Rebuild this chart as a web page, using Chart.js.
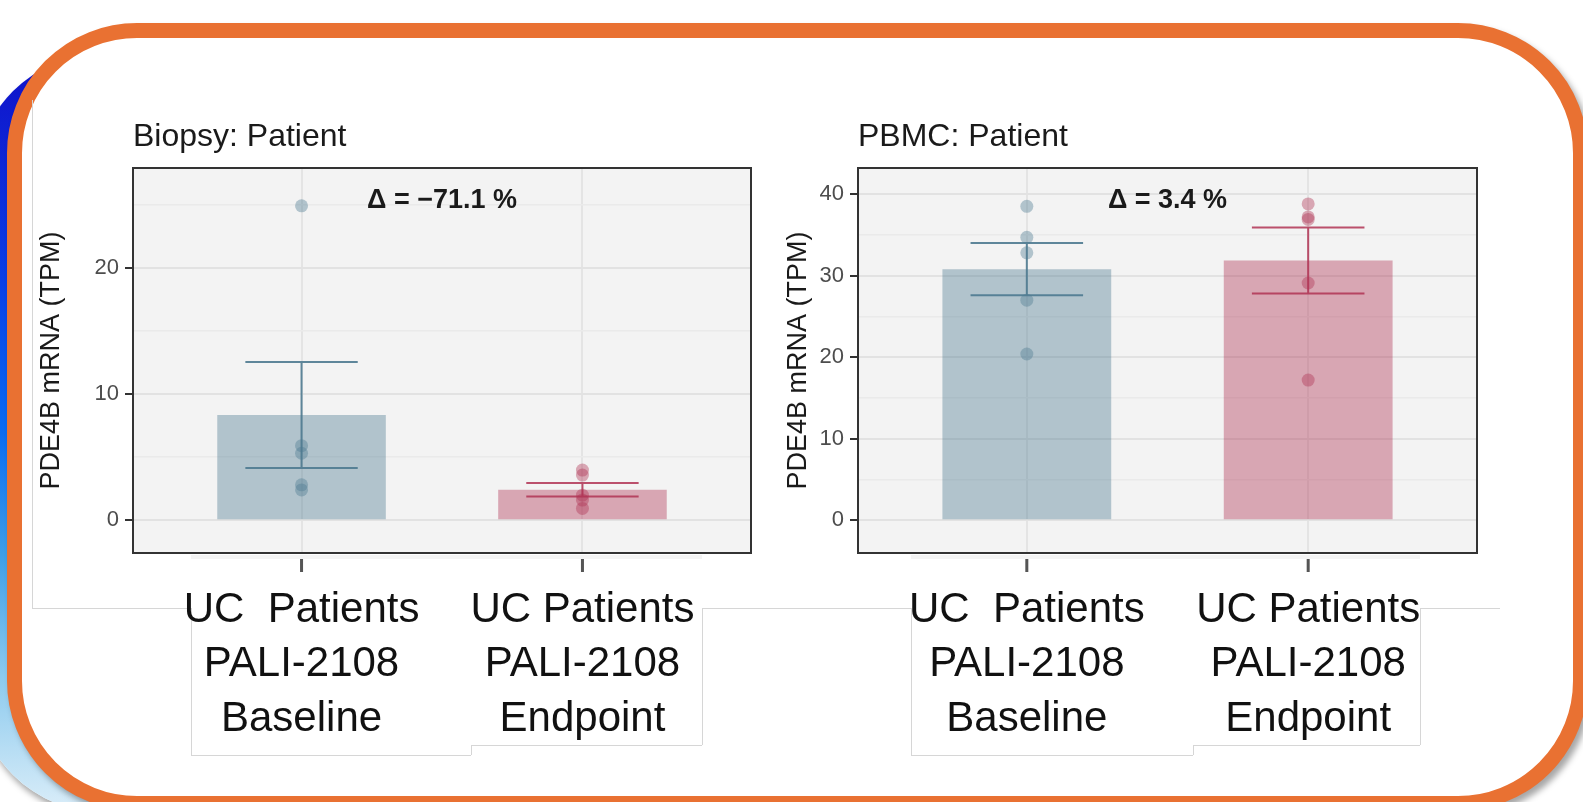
<!DOCTYPE html>
<html>
<head>
<meta charset="utf-8">
<script src="https://cdn.jsdelivr.net/npm/chart.js@4.4.1/dist/chart.umd.min.js"></script>
<style>
html,body{margin:0;padding:0;width:1583px;height:802px;overflow:hidden;background:#fff;}
.abs{position:absolute;}
#blue{left:-25px;top:53px;width:1500px;height:760px;border-radius:130px;
  background:linear-gradient(to bottom,#1010c8 0%,#0a3fe6 30%,#0a6cf2 50%,#3e9ee8 66%,#8ccaee 82%,#dceef9 100%);
  box-shadow:2px 5px 6px rgba(0,0,0,0.35);}
#frame{left:7px;top:23px;width:1581px;height:788px;box-sizing:border-box;border:15px solid #e97132;border-radius:130px;background:#fff;
  box-shadow:4px 5px 6px rgba(0,0,0,0.35);}
.ln{position:absolute;background:#d6d6d6;}
.band{position:absolute;background:#f4f4f4;}
.wrap{position:absolute;top:0;height:802px;}
</style>
</head>
<body>
<div id="blue" class="abs"></div>
<div id="frame" class="abs"></div>

<!-- pasted label boxes / picture outlines -->
<div class="ln" style="left:32px;top:100px;width:1px;height:508px;"></div>
<div class="ln" style="left:32px;top:608px;width:159px;height:1px;"></div>
<div class="ln" style="left:191px;top:608px;width:1px;height:147px;"></div>
<div class="ln" style="left:191px;top:755px;width:280px;height:1px;"></div>
<div class="ln" style="left:471px;top:745px;width:1px;height:10px;"></div>
<div class="ln" style="left:471px;top:745px;width:231px;height:1px;"></div>
<div class="ln" style="left:702px;top:608px;width:1px;height:137px;"></div>
<div class="ln" style="left:702px;top:608px;width:209px;height:1px;"></div>
<div class="ln" style="left:911px;top:608px;width:1px;height:147px;"></div>
<div class="ln" style="left:911px;top:755px;width:282px;height:1px;"></div>
<div class="ln" style="left:1193px;top:745px;width:1px;height:10px;"></div>
<div class="ln" style="left:1193px;top:745px;width:227px;height:1px;"></div>
<div class="ln" style="left:1420px;top:608px;width:1px;height:137px;"></div>
<div class="ln" style="left:1420px;top:608px;width:80px;height:1px;"></div>
<div class="band" style="left:191px;top:555px;width:511px;height:4px;"></div>
<div class="band" style="left:911px;top:555px;width:509px;height:4px;"></div>

<div class="wrap" style="left:0;width:770px;"><canvas id="c1" width="770" height="802"></canvas></div>
<div class="wrap" style="left:770px;width:813px;"><canvas id="c2" width="813" height="802"></canvas></div>

<script>
// ---------- data ----------
const categories = [
  ['UC  Patients', 'PALI-2108', 'Baseline'],
  ['UC Patients', 'PALI-2108', 'Endpoint']
];
const categoryPos = [1, 2];
const yAxisTitle = 'PDE4B mRNA (TPM)';

const biopsyTitle = 'Biopsy: Patient';
const biopsyMeans = [8.33, 2.41];
const biopsySE = [4.2, 0.53];
const biopsyBaselinePts = [24.9, 5.9, 5.3, 2.8, 2.4];
const biopsyEndpointPts = [3.97, 3.57, 1.98, 1.59, 0.93];
const biopsyDelta = 'Δ = −71.1 %';
const biopsyDeltaY = 25.3;
const biopsyYTicks = [0, 5, 10, 15, 20, 25];
const biopsyYLabels = ['0', '', '10', '', '20', ''];
const biopsyYRange = [-2.6, 27.9];

const pbmcTitle = 'PBMC: Patient';
const pbmcMeans = [30.8, 31.85];
const pbmcSE = [3.2, 4.05];
const pbmcBaselinePts = [38.5, 34.7, 32.8, 27.0, 20.4];
const pbmcEndpointPts = [38.8, 37.2, 36.9, 29.1, 17.2];
const pbmcDelta = 'Δ = 3.4 %';
const pbmcDeltaY = 39.2;
const pbmcYTicks = [0, 5, 10, 15, 20, 25, 30, 35, 40];
const pbmcYLabels = ['0', '', '10', '', '20', '', '30', '', '40'];
const pbmcYRange = [-4.0, 43.2];

// ---------- styling ----------
const FONT = "'Liberation Sans', Arial, sans-serif";
Chart.defaults.font.family = FONT;
const baseRGB = '78,122,144';
const endRGB = '176,50,83';

const panelPlugin = {
  id: 'panel',
  beforeDraw(chart, args, o) {
    const {ctx, chartArea: a} = chart;
    ctx.save();
    ctx.fillStyle = '#f3f3f3';
    ctx.fillRect(a.left, a.top, a.right - a.left, a.bottom - a.top);
    ctx.restore();
  },
  afterDatasetsDraw(chart, args, o) {
    const {ctx} = chart;
    const xs = chart.scales.x, ys = chart.scales.y;
    ctx.save();
    ctx.lineWidth = 2;
    o.means.forEach((m, i) => {
      const x = xs.getPixelForValue(categoryPos[i]);
      const hw = xs.getPixelForValue(categoryPos[i] + 0.2) - x;
      const yHi = ys.getPixelForValue(m + o.se[i]);
      const yLo = ys.getPixelForValue(m - o.se[i]);
      ctx.strokeStyle = o.errColors[i];
      ctx.beginPath();
      ctx.moveTo(x - hw, yHi); ctx.lineTo(x + hw, yHi);
      ctx.moveTo(x, yHi); ctx.lineTo(x, yLo);
      ctx.moveTo(x - hw, yLo); ctx.lineTo(x + hw, yLo);
      ctx.stroke();
    });
    ctx.restore();
  },
  afterDraw(chart, args, o) {
    const {ctx, chartArea: a} = chart;
    const xs = chart.scales.x, ys = chart.scales.y;
    ctx.save();
    ctx.strokeStyle = '#333';
    ctx.lineWidth = 2;
    ctx.strokeRect(a.left, a.top, a.right - a.left, a.bottom - a.top);
    ctx.fillStyle = '#1a1a1a';
    ctx.font = '32px ' + FONT;
    ctx.textAlign = 'left';
    ctx.textBaseline = 'alphabetic';
    ctx.fillText(o.title, a.left, a.top - 22);
    ctx.font = 'bold 27px ' + FONT;
    ctx.textAlign = 'center';
    ctx.textBaseline = 'middle';
    ctx.fillText(o.delta, xs.getPixelForValue(1.5), ys.getPixelForValue(o.deltaY));
    ctx.fillStyle = '#555';
    categoryPos.forEach(p => {
      const x = xs.getPixelForValue(p);
      ctx.fillRect(x - 1.5, a.bottom + 6, 3, 13);
    });
    ctx.restore();
  }
};

function makePanel(id, cfg) {
  const major = c => c.tick && c.tick.value % 10 === 0;
  return new Chart(document.getElementById(id), {
    type: 'bar',
    data: {
      datasets: [
        {type: 'scatter', data: cfg.basePts.map(v => ({x: categoryPos[0], y: v})),
         backgroundColor: 'rgba(' + baseRGB + ',0.4)', borderWidth: 0, pointRadius: 6.5, order: 1},
        {type: 'scatter', data: cfg.endPts.map(v => ({x: categoryPos[1], y: v})),
         backgroundColor: 'rgba(' + endRGB + ',0.4)', borderWidth: 0, pointRadius: 6.5, order: 1},
        {type: 'bar', data: cfg.means.map((m, i) => ({x: categoryPos[i], y: m})),
         backgroundColor: ['rgba(' + baseRGB + ',0.4)', 'rgba(' + endRGB + ',0.4)'],
         borderWidth: 0, categoryPercentage: 1, barPercentage: 0.6, order: 2}
      ]
    },
    options: {
      responsive: false, animation: false, devicePixelRatio: 1,
      layout: {padding: {left: 0, right: cfg.padRight, top: 168, bottom: 0}},
      plugins: {
        legend: {display: false}, tooltip: {enabled: false}, title: {display: false},
        panel: {
          title: cfg.title, delta: cfg.delta, deltaY: cfg.deltaY,
          means: cfg.means, se: cfg.se,
          errColors: ['rgba(' + baseRGB + ',0.9)', 'rgba(' + endRGB + ',0.85)']
        }
      },
      scales: {
        x: {
          type: 'linear', min: 0.4, max: 2.6, offset: false,
          afterBuildTicks: s => { s.ticks = categoryPos.map(v => ({value: v})); },
          afterFit: s => { s.height = 249; },
          grid: {color: '#e4e4e4', lineWidth: 2, drawTicks: false, offset: false},
          border: {display: false},
          ticks: {
            autoSkip: false, maxRotation: 0, minRotation: 0, padding: 30,
            color: '#111', font: {size: 42, lineHeight: 1.3},
            callback: v => categories[categoryPos.indexOf(v)]
          }
        },
        y: {
          type: 'linear', min: cfg.yRange[0], max: cfg.yRange[1],
          afterBuildTicks: s => { s.ticks = cfg.yTicks.map(v => ({value: v})); },
          afterFit: s => { s.width = cfg.yWidth; },
          grid: {
            color: c => major(c) ? '#e2e2e2' : '#eaeaea',
            lineWidth: c => major(c) ? 2 : 1.5,
            tickLength: 8, tickWidth: 2,
            tickColor: c => major(c) ? '#333' : 'rgba(0,0,0,0)'
          },
          border: {display: false},
          ticks: {
            autoSkip: false, padding: 6, color: '#4d4d4d', font: {size: 22},
            callback: (v, i) => cfg.yLabels[i]
          },
          title: {display: true, text: yAxisTitle, color: '#1a1a1a', font: {size: 27},
                  padding: {top: cfg.titlePad, bottom: 0}}
        }
      }
    },
    plugins: [panelPlugin]
  });
}

makePanel('c1', {
  title: biopsyTitle, delta: biopsyDelta, deltaY: biopsyDeltaY,
  means: biopsyMeans, se: biopsySE, basePts: biopsyBaselinePts, endPts: biopsyEndpointPts,
  yTicks: biopsyYTicks, yLabels: biopsyYLabels, yRange: biopsyYRange,
  yWidth: 133, padRight: 19, titlePad: 35
});
makePanel('c2', {
  title: pbmcTitle, delta: pbmcDelta, deltaY: pbmcDeltaY,
  means: pbmcMeans, se: pbmcSE, basePts: pbmcBaselinePts, endPts: pbmcEndpointPts,
  yTicks: pbmcYTicks, yLabels: pbmcYLabels, yRange: pbmcYRange,
  yWidth: 88, padRight: 106, titlePad: 12
});
</script>
</body>
</html>
